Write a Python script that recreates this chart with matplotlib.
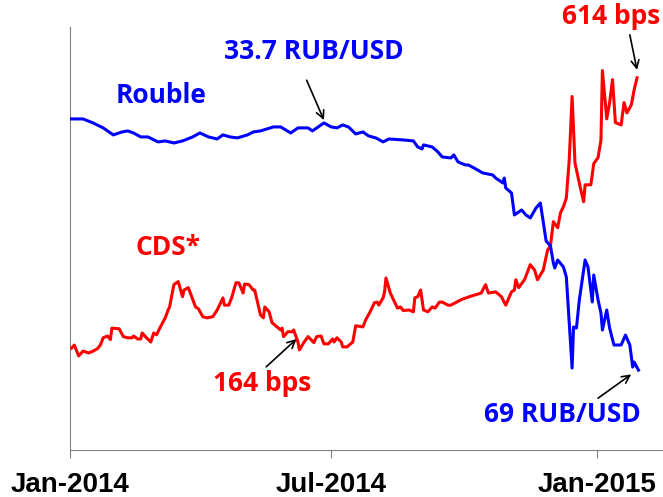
import matplotlib
matplotlib.use("Agg")
import matplotlib.pyplot as plt
import pandas as pd

plt.rcParams['font.family'] = ['Open Sans', 'DejaVu Sans']

# rouble exchange rate, RUB per USD (plotted on an inverted scale)
rub_dates = [
    "2014-01-02", "2014-01-10", "2014-01-17", "2014-01-24", "2014-01-31", "2014-02-06",
    "2014-02-10", "2014-02-14", "2014-02-19", "2014-02-24", "2014-03-03", "2014-03-08",
    "2014-03-14", "2014-03-20", "2014-03-27", "2014-04-01", "2014-04-07", "2014-04-13",
    "2014-04-17", "2014-04-22", "2014-04-27", "2014-05-04", "2014-05-08", "2014-05-13",
    "2014-05-22", "2014-05-27", "2014-06-03", "2014-06-08", "2014-06-15", "2014-06-18",
    "2014-06-26", "2014-07-01", "2014-07-05", "2014-07-09", "2014-07-13", "2014-07-18",
    "2014-07-23", "2014-07-27", "2014-08-01", "2014-08-06", "2014-08-10", "2014-08-20",
    "2014-08-27", "2014-08-30", "2014-09-02", "2014-09-03", "2014-09-09", "2014-09-13",
    "2014-09-16", "2014-09-22", "2014-09-24", "2014-09-27", "2014-10-02", "2014-10-04",
    "2014-10-08", "2014-10-14", "2014-10-21", "2014-10-23", "2014-10-28", "2014-10-29",
    "2014-10-30", "2014-11-03", "2014-11-05", "2014-11-10", "2014-11-13", "2014-11-16",
    "2014-11-20", "2014-11-23", "2014-11-27", "2014-11-30", "2014-12-02", "2014-12-03",
    "2014-12-05", "2014-12-09", "2014-12-11", "2014-12-15", "2014-12-16", "2014-12-18",
    "2014-12-20", "2014-12-24", "2014-12-26", "2014-12-29", "2014-12-30", "2015-01-02",
    "2015-01-04", "2015-01-05", "2015-01-08", "2015-01-10", "2015-01-13", "2015-01-18",
    "2015-01-21", "2015-01-24", "2015-01-26", "2015-01-27", "2015-01-30",
]
rub_vals = [
    33.13, 33.13, 33.70, 34.41, 35.41, 34.99,
    34.84, 35.13, 35.70, 35.70, 36.41, 36.27,
    36.56, 36.27, 35.70, 35.13, 35.70, 35.99,
    35.41, 35.70, 35.84, 35.41, 34.99, 34.84,
    34.27, 34.27, 35.13, 34.41, 34.41, 34.84,
    33.70, 34.27, 34.41, 33.99, 34.27, 35.27,
    34.99, 35.56, 35.84, 36.41, 35.99, 36.13,
    36.27, 37.13, 37.41, 36.84, 37.13, 37.84,
    38.56, 38.70, 38.27, 39.27, 39.70, 39.70,
    40.13, 40.84, 41.13, 41.56, 42.27, 41.56,
    42.99, 43.70, 46.84, 46.13, 46.84, 47.27,
    45.84, 45.13, 50.56, 51.27, 53.70, 54.41,
    53.27, 54.27, 55.70, 68.70, 62.84, 62.99,
    58.99, 53.27, 54.27, 59.27, 55.41, 58.99,
    60.84, 63.27, 60.41, 62.99, 65.41, 65.41,
    63.99, 65.41, 68.56, 67.84, 69.00,
]

# 5-year CDS spread, bps
cds_dates = [
    "2014-01-02", "2014-01-04", "2014-01-07", "2014-01-10", "2014-01-14", "2014-01-17",
    "2014-01-20", "2014-01-22", "2014-01-24", "2014-01-27", "2014-01-29", "2014-01-30",
    "2014-02-04", "2014-02-07", "2014-02-10", "2014-02-13", "2014-02-14", "2014-02-17",
    "2014-02-19", "2014-02-20", "2014-02-23", "2014-02-26", "2014-02-28", "2014-03-02",
    "2014-03-04", "2014-03-08", "2014-03-10", "2014-03-11", "2014-03-14", "2014-03-17",
    "2014-03-20", "2014-03-21", "2014-03-24", "2014-03-29", "2014-03-31", "2014-04-03",
    "2014-04-06", "2014-04-10", "2014-04-13", "2014-04-14", "2014-04-17", "2014-04-18",
    "2014-04-21", "2014-04-23", "2014-04-26", "2014-04-28", "2014-05-01", "2014-05-02",
    "2014-05-05", "2014-05-08", "2014-05-09", "2014-05-13", "2014-05-15", "2014-05-16",
    "2014-05-19", "2014-05-21", "2014-05-23", "2014-05-27", "2014-05-28", "2014-05-29",
    "2014-06-01", "2014-06-04", "2014-06-05", "2014-06-08", "2014-06-09", "2014-06-12",
    "2014-06-15", "2014-06-19", "2014-06-21", "2014-06-24", "2014-06-26", "2014-06-29",
    "2014-07-02", "2014-07-03", "2014-07-05", "2014-07-08", "2014-07-09", "2014-07-12",
    "2014-07-16", "2014-07-18", "2014-07-23", "2014-07-25", "2014-07-28", "2014-07-31",
    "2014-08-02", "2014-08-03", "2014-08-06", "2014-08-07", "2014-08-08", "2014-08-11",
    "2014-08-15", "2014-08-16", "2014-08-18", "2014-08-20", "2014-08-24", "2014-08-27",
    "2014-08-28", "2014-08-30", "2014-09-01", "2014-09-03", "2014-09-06", "2014-09-09",
    "2014-09-11", "2014-09-14", "2014-09-16", "2014-09-20", "2014-09-22", "2014-09-29",
    "2014-10-06", "2014-10-13", "2014-10-16", "2014-10-18", "2014-10-23", "2014-10-27",
    "2014-10-30", "2014-11-03", "2014-11-05", "2014-11-06", "2014-11-08", "2014-11-12",
    "2014-11-16", "2014-11-19", "2014-11-21", "2014-11-25", "2014-11-28", "2014-11-30",
    "2014-12-02", "2014-12-05", "2014-12-07", "2014-12-09", "2014-12-11", "2014-12-13",
    "2014-12-15", "2014-12-17", "2014-12-21", "2014-12-23", "2014-12-24", "2014-12-28",
    "2014-12-30", "2015-01-02", "2015-01-04", "2015-01-05", "2015-01-08", "2015-01-10",
    "2015-01-12", "2015-01-14", "2015-01-18", "2015-01-20", "2015-01-22", "2015-01-25",
    "2015-01-27", "2015-01-29",
]
cds_vals = [
    167, 172, 154, 162, 159, 162,
    166, 172, 184, 187, 181, 200,
    199, 186, 184, 184, 187, 182,
    182, 192, 184, 177, 192, 189,
    199, 217, 230, 235, 272, 277,
    252, 263, 267, 235, 232, 219,
    217, 219, 230, 235, 250, 238,
    238, 250, 275, 275, 258, 273,
    272, 263, 263, 222, 217, 235,
    227, 209, 205, 197, 200, 186,
    194, 194, 197, 177, 164, 176,
    186, 176, 186, 187, 174, 174,
    182, 177, 184, 177, 169, 169,
    177, 204, 202, 214, 227, 242,
    243, 238, 250, 260, 283, 258,
    238, 233, 235, 229, 230, 227,
    250, 252, 263, 230, 227, 235,
    233, 243, 243, 238, 238, 247,
    253, 258, 272, 258, 260, 252,
    238, 260, 263, 280, 267, 280,
    305, 296, 280, 296, 329, 336,
    376, 366, 391, 401, 415, 478,
    583, 473, 429, 409, 437, 437,
    472, 482, 511, 626, 546, 573,
    611, 540, 536, 573, 556, 569,
    594, 614,
]

tick_dates = ["2014-01-01", "2014-07-01", "2015-01-01"]
tick_labels = ["Jan-2014", "Jul-2014", "Jan-2015"]

RED = "#ff0000"
BLUE = "#0000ff"

rub_x = pd.to_datetime(rub_dates)
cds_x = pd.to_datetime(cds_dates)

fig = plt.figure(figsize=(6.63, 4.97), dpi=100)
ax = fig.add_axes([0.1056, 0.0946, 0.8944, 0.8511])
ax2 = ax.twinx()

ax.plot(cds_x, cds_vals, color=RED, lw=2.2, zorder=3)
ax2.plot(rub_x, rub_vals, color=BLUE, lw=2.2)

ax.set_xlim(pd.Timestamp("2014-01-01"), pd.Timestamp("2015-02-16"))
ax.set_ylim(-1.5, 698)
ax2.set_ylim(80.4, 20.0)

ax.set_xticks(pd.to_datetime(tick_dates))
ax.set_xticklabels(tick_labels, fontsize=20, fontweight="bold", family="Liberation Sans")
ax.tick_params(axis="x", direction="out", length=5.8, color="#808080", pad=10)
ax.set_yticks([])
ax2.set_yticks([])
for a in (ax, ax2):
    a.spines["top"].set_visible(False)
    a.spines["right"].set_visible(False)
ax2.spines["left"].set_visible(False)
ax2.spines["bottom"].set_visible(False)
ax.spines["left"].set_color("#808080")
ax.spines["bottom"].set_color("#808080")

txt = dict(fontsize=19, fontweight="bold", ha="center", va="center")
arr = dict(arrowstyle="->", color="black", lw=1.2, mutation_scale=14, shrinkA=0, shrinkB=0)

ax2.text(pd.Timestamp("2014-03-05"), 29.84, "Rouble", color=BLUE, **txt)
ax2.text(pd.Timestamp("2014-06-19"), 23.56, "33.7 RUB/USD", color=BLUE, **txt)
ax2.annotate("", xy=(pd.Timestamp("2014-06-26"), 33.3),
             xytext=(pd.Timestamp("2014-06-14"), 27.6), arrowprops=arr)
ax2.text(pd.Timestamp("2014-12-08"), 75.3, "69 RUB/USD", color=BLUE, **txt)
ax2.annotate("", xy=(pd.Timestamp("2015-01-25"), 69.6),
             xytext=(pd.Timestamp("2015-01-02"), 73.0), arrowprops=arr)

ax.text(pd.Timestamp("2014-03-10"), 333, "CDS*", color=RED, **txt)
ax.text(pd.Timestamp("2014-05-14"), 109, "164 bps", color=RED, **txt)
ax.annotate("", xy=(pd.Timestamp("2014-06-07"), 182),
            xytext=(pd.Timestamp("2014-05-17"), 136), arrowprops=arr)
ax.text(pd.Timestamp("2015-01-11"), 715, "614 bps", color=RED, **txt)
ax.annotate("", xy=(pd.Timestamp("2015-01-29"), 627),
            xytext=(pd.Timestamp("2015-01-24"), 685), arrowprops=arr)

fig.savefig("out.png", dpi=100)
